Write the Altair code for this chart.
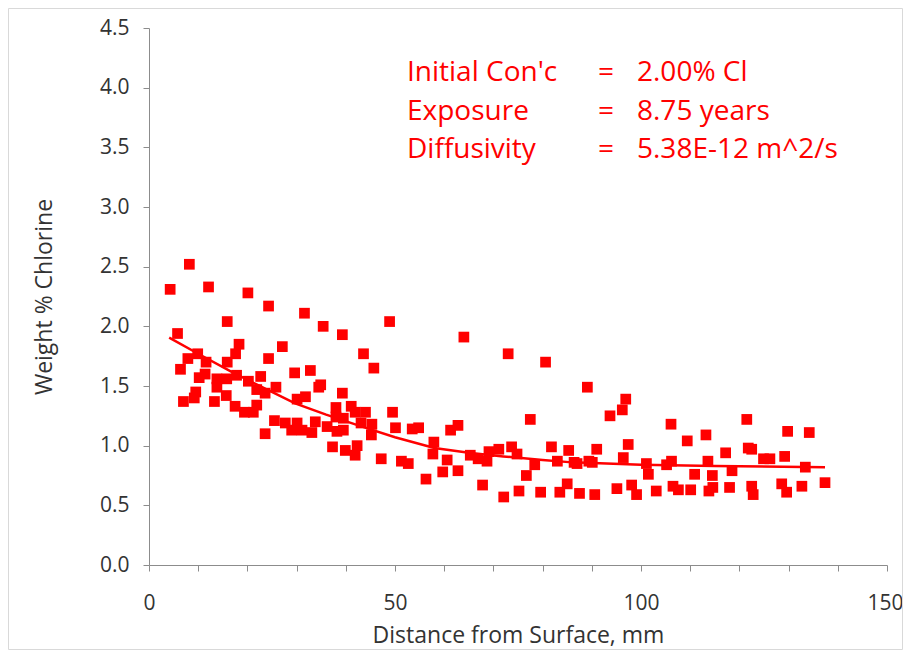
import altair as alt
import pandas as pd

# ---- data ----
distance_mm = [
    8.2, 4.3, 12.1, 20.1, 24.3, 15.9, 5.8, 18.3, 27.1, 17.6, 9.9, 7.9, 24.3, 11.6, 15.9,
    6.4, 29.6, 11.4, 10.2, 13.8, 15.8, 17.8, 13.8, 20.2, 22.7, 21.9, 23.6, 25.8, 9.5, 9.2,
    7.0, 13.3, 15.7, 17.5, 19.4, 21.2, 21.9, 25.5, 27.7, 29.0, 23.6,
    31.6, 35.4, 39.3, 48.9, 43.6, 45.7, 32.8, 34.5, 34.9, 31.8, 30.1, 39.3, 38.0, 41.1,
    41.9, 44.0, 49.5, 39.5, 38.0, 30.1, 33.8, 36.2, 38.2, 39.5, 31.1, 33.1, 43.1, 45.3,
    45.2, 50.1, 53.5, 54.8, 37.3, 39.9, 42.3, 41.9, 47.2, 51.3, 52.7, 56.3, 57.9, 57.7,
    64.0, 73.0, 80.6, 77.5, 62.8, 61.3, 60.6, 59.7, 62.8, 65.3, 66.9, 69.1, 68.7, 71.1,
    73.7, 74.8, 78.4, 76.7, 67.8, 72.1, 75.2, 79.6, 81.8, 83.0, 85.3, 86.4, 85.0, 83.5,
    89.1, 96.9, 96.2, 93.7, 106.1, 113.2, 109.4, 97.4, 91.0, 87.0, 89.4, 90.1, 96.4, 101.1,
    101.5, 105.2, 106.2, 110.9, 113.6, 114.5, 87.5, 90.6, 95.1, 98.1, 99.1, 103.1, 106.5,
    107.6, 110.1, 113.8,
    121.5, 129.8, 134.2, 117.2, 121.8, 122.5, 124.9, 126.2, 129.2, 133.4, 118.5, 118.0,
    114.6, 122.5, 122.8, 128.6, 129.6, 132.7, 137.4,
]
weight_pct = [
    2.52, 2.31, 2.33, 2.28, 2.17, 2.04, 1.94, 1.85, 1.83, 1.77, 1.77, 1.73, 1.73, 1.70, 1.70,
    1.64, 1.61, 1.60, 1.57, 1.56, 1.56, 1.59, 1.49, 1.54, 1.58, 1.47, 1.44, 1.49, 1.45, 1.40,
    1.37, 1.37, 1.42, 1.33, 1.28, 1.28, 1.34, 1.21, 1.19, 1.13, 1.10,
    2.11, 2.00, 1.93, 2.04, 1.77, 1.65, 1.63, 1.49, 1.51, 1.41, 1.39, 1.44, 1.32, 1.33,
    1.28, 1.28, 1.28, 1.23, 1.24, 1.19, 1.20, 1.16, 1.12, 1.13, 1.13, 1.11, 1.19, 1.18,
    1.09, 1.15, 1.14, 1.15, 0.99, 0.96, 1.00, 0.92, 0.89, 0.87, 0.85, 0.72, 1.03, 0.93,
    1.91, 1.77, 1.70, 1.22, 1.17, 1.13, 0.88, 0.78, 0.79, 0.92, 0.89, 0.95, 0.87, 0.97,
    0.99, 0.93, 0.84, 0.75, 0.67, 0.57, 0.62, 0.61, 0.99, 0.87, 0.96, 0.86, 0.68, 0.61,
    1.49, 1.39, 1.30, 1.25, 1.18, 1.09, 1.04, 1.01, 0.97, 0.85, 0.87, 0.86, 0.90, 0.85,
    0.76, 0.84, 0.87, 0.76, 0.87, 0.75, 0.60, 0.59, 0.64, 0.67, 0.59, 0.62, 0.66,
    0.63, 0.63, 0.62,
    1.22, 1.12, 1.11, 0.94, 0.98, 0.97, 0.89, 0.89, 0.91, 0.82, 0.79, 0.65,
    0.65, 0.66, 0.59, 0.68, 0.61, 0.66, 0.69,
]

# fitted profile
fit_distance = [4.1, 10, 16.7, 23, 29.7, 36, 43.3, 50, 58, 65, 72, 80, 86, 100, 115, 137.4]
fit_weight = [1.905, 1.77, 1.62, 1.49, 1.355, 1.26, 1.16, 1.07, 0.98, 0.94, 0.91, 0.88, 0.86, 0.84, 0.83, 0.82]

note_labels = ["Initial Con'c", "Exposure", "Diffusivity"]
note_equals = ["=", "=", "="]
note_values = ["2.00% Cl", "8.75 years", "5.38E-12 m^2/s"]

x_ticks = list(range(0, 151, 10))
y_ticks = [0.0, 0.5, 1.0, 1.5, 2.0, 2.5, 3.0, 3.5, 4.0, 4.5]

# ---- styling ----
RED = "#FF0000"
FONT = "Open Sans"
AXIS_GRAY = "#8c8c8c"
TEXT_GRAY = "#333333"
W, H = 738, 537

pts = pd.DataFrame({"d": distance_mm, "w": weight_pct})
fit = pd.DataFrame({"d": fit_distance, "w": fit_weight})
one = pd.DataFrame({"k": [0]})

x_scale = alt.Scale(domain=[0, 150], nice=False, zero=False)
y_scale = alt.Scale(domain=[0, 4.5], nice=False)

x_axis = alt.Axis(
    title="Distance from Surface, mm",
    values=x_ticks,
    labelExpr="datum.value % 50 == 0 ? datum.label : ''",
    labelAlign={"condition": {"test": "datum.value == 150", "value": "right"}, "value": "center"},
    labelOffset={"condition": {"test": "datum.value == 150", "value": 16}, "value": 0},
    grid=False,
    tickSize=6,
    labelPadding=21,
    titlePadding=11,
    labelFlush=False,
    labelOverlap=False,
)
y_axis = alt.Axis(
    title="Weight % Chlorine",
    values=y_ticks,
    format=".1f",
    grid=False,
    tickSize=6,
    labelPadding=14,
    titlePadding=43,
    labelOverlap=False,
)

scatter = alt.Chart(pts).mark_point(
    shape="square", filled=True, size=115, color=RED, opacity=1, strokeWidth=0
).encode(
    x=alt.X("d:Q", scale=x_scale, axis=x_axis),
    y=alt.Y("w:Q", scale=y_scale, axis=y_axis),
)

curve = alt.Chart(fit).mark_line(color=RED, strokeWidth=2.5).encode(
    x=alt.X("d:Q", scale=x_scale, axis=x_axis),
    y=alt.Y("w:Q", scale=y_scale, axis=y_axis),
)

def note(lines, xpix):
    return alt.Chart(one).mark_text(
        font=FONT, fontSize=28, color=RED, align="left",
        baseline="alphabetic", lineHeight=38.5,
    ).encode(x=alt.value(xpix), y=alt.value(53), text=alt.value(lines))

border = alt.Chart(one).mark_rect(
    fillOpacity=0, stroke="#d9d9d9", strokeWidth=1
).encode(
    x=alt.value(-140.5), x2=alt.value(753.5), y=alt.value(-19.5), y2=alt.value(621.5)
)

chart = alt.layer(
    border, curve, scatter,
    note(note_labels, 258), note(note_equals, 449), note(note_values, 488),
).properties(
    width=W, height=H,
    autosize=alt.AutoSizeParams(type="none"),
    padding={"left": 141, "top": 20, "right": 16, "bottom": 85},
).configure_view(
    stroke=None
).configure_axis(
    labelFont=FONT, titleFont=FONT,
    labelFontSize=21, titleFontSize=23,
    labelColor=TEXT_GRAY, titleColor=TEXT_GRAY,
    titleFontWeight="normal",
    domainColor=AXIS_GRAY, tickColor=AXIS_GRAY,
    domainWidth=1, tickWidth=1,
)

chart.save("out.html", embed_options={"renderer": "svg", "actions": False})
